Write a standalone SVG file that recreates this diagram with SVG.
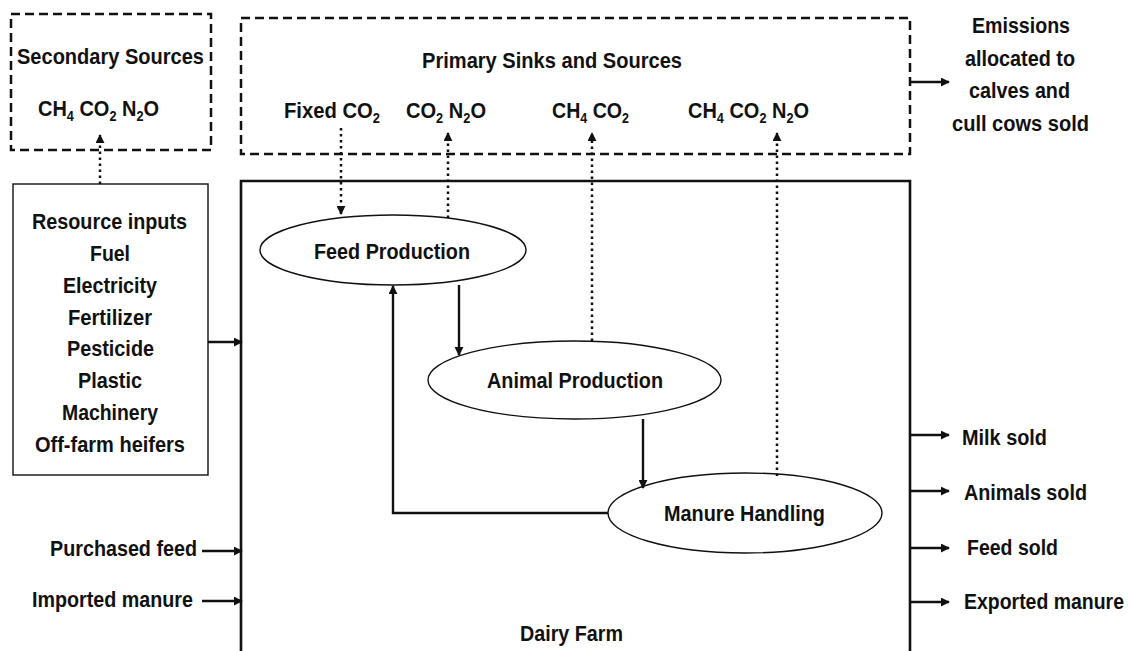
<svg xmlns="http://www.w3.org/2000/svg" width="1133" height="651" viewBox="0 0 1133 651">
<style>
text{font-family:"Liberation Sans",Arial,sans-serif;font-weight:bold;font-size:22px;fill:#111}
.sub{font-size:14px}
.dash{fill:none;stroke:#111;stroke-width:2.5;stroke-dasharray:9,5}
.thin{fill:#fff;stroke:#111;stroke-width:1.4}
.thick{fill:none;stroke:#111;stroke-width:2.6}
.dot{fill:none;stroke:#111;stroke-width:2.5;stroke-dasharray:2.5,3.5}
.ln{fill:none;stroke:#111;stroke-width:2.4}
</style>
<defs>
<marker id="ah" viewBox="0 0 10 10" refX="9" refY="5" markerWidth="9" markerHeight="9" markerUnits="userSpaceOnUse" orient="auto">
<path d="M0,0 L10,5 L0,10 z" fill="#111"/>
</marker>
</defs>
<rect width="1133" height="651" fill="#fff"/>

<g id="secondary">
<rect class="dash" x="11" y="14" width="200" height="136"/>
<text x="17" y="64" textLength="187" lengthAdjust="spacingAndGlyphs">Secondary Sources</text>
<text x="38" y="116" textLength="121" lengthAdjust="spacingAndGlyphs">CH<tspan class="sub" dy="5">4</tspan><tspan dy="-5"> CO</tspan><tspan class="sub" dy="5">2</tspan><tspan dy="-5"> N</tspan><tspan class="sub" dy="5">2</tspan><tspan dy="-5">O</tspan></text>
</g>

<g id="primary">
<rect class="dash" x="241" y="18" width="669" height="136"/>
<text x="422" y="68" textLength="260" lengthAdjust="spacingAndGlyphs">Primary Sinks and Sources</text>
<text x="284" y="118" textLength="96" lengthAdjust="spacingAndGlyphs">Fixed CO<tspan class="sub" dy="5">2</tspan></text>
<text x="406" y="118" textLength="80" lengthAdjust="spacingAndGlyphs">CO<tspan class="sub" dy="5">2</tspan><tspan dy="-5"> N</tspan><tspan class="sub" dy="5">2</tspan><tspan dy="-5">O</tspan></text>
<text x="552" y="118" textLength="77" lengthAdjust="spacingAndGlyphs">CH<tspan class="sub" dy="5">4</tspan><tspan dy="-5"> CO</tspan><tspan class="sub" dy="5">2</tspan></text>
<text x="688" y="118" textLength="121" lengthAdjust="spacingAndGlyphs">CH<tspan class="sub" dy="5">4</tspan><tspan dy="-5"> CO</tspan><tspan class="sub" dy="5">2</tspan><tspan dy="-5"> N</tspan><tspan class="sub" dy="5">2</tspan><tspan dy="-5">O</tspan></text>
</g>

<g id="emissions">
<text x="972" y="33" textLength="98" lengthAdjust="spacingAndGlyphs">Emissions</text>
<text x="965" y="66" textLength="110" lengthAdjust="spacingAndGlyphs">allocated to</text>
<text x="969" y="98" textLength="101" lengthAdjust="spacingAndGlyphs">calves and</text>
<text x="952" y="131" textLength="137" lengthAdjust="spacingAndGlyphs">cull cows sold</text>
</g>

<g id="resources">
<rect class="thin" x="13" y="184" width="195" height="291"/>
<text x="32" y="229" textLength="155" lengthAdjust="spacingAndGlyphs">Resource inputs</text>
<text x="90" y="261" textLength="40" lengthAdjust="spacingAndGlyphs">Fuel</text>
<text x="63" y="293" textLength="94" lengthAdjust="spacingAndGlyphs">Electricity</text>
<text x="68" y="325" textLength="84" lengthAdjust="spacingAndGlyphs">Fertilizer</text>
<text x="67" y="356" textLength="87" lengthAdjust="spacingAndGlyphs">Pesticide</text>
<text x="78" y="388" textLength="64" lengthAdjust="spacingAndGlyphs">Plastic</text>
<text x="62" y="420" textLength="96" lengthAdjust="spacingAndGlyphs">Machinery</text>
<text x="35" y="452" textLength="150" lengthAdjust="spacingAndGlyphs">Off-farm heifers</text>
</g>

<g id="dairy-farm">
<path class="thick" d="M241,660 L241,181 L910,181 L910,660"/>
<text x="520" y="641" textLength="103" lengthAdjust="spacingAndGlyphs">Dairy Farm</text>
</g>

<g id="feed-production">
<ellipse class="thin" cx="393" cy="250" rx="133" ry="35"/>
<text x="314" y="259" textLength="156" lengthAdjust="spacingAndGlyphs">Feed Production</text>
</g>

<g id="animal-production">
<ellipse class="thin" cx="574.5" cy="380" rx="146.5" ry="39"/>
<text x="487" y="388" textLength="176" lengthAdjust="spacingAndGlyphs">Animal Production</text>
</g>

<g id="manure-handling">
<ellipse class="thin" cx="745" cy="513" rx="137" ry="40"/>
<text x="664" y="521" textLength="161" lengthAdjust="spacingAndGlyphs">Manure Handling</text>
</g>

<g id="inputs-outputs">
<text x="50" y="556" textLength="147" lengthAdjust="spacingAndGlyphs">Purchased feed</text>
<text x="32" y="607" textLength="161" lengthAdjust="spacingAndGlyphs">Imported manure</text>
<text x="962" y="445" textLength="85" lengthAdjust="spacingAndGlyphs">Milk sold</text>
<text x="964" y="500" textLength="123" lengthAdjust="spacingAndGlyphs">Animals sold</text>
<text x="967" y="555" textLength="91" lengthAdjust="spacingAndGlyphs">Feed sold</text>
<text x="964" y="609" textLength="160" lengthAdjust="spacingAndGlyphs">Exported manure</text>
</g>

<g id="connectors">
<line class="dot" x1="100" y1="184" x2="100" y2="135" marker-end="url(#ah)"/>
<line class="dot" x1="341" y1="128" x2="341" y2="214" marker-end="url(#ah)"/>
<line class="dot" x1="448" y1="218" x2="448" y2="133" marker-end="url(#ah)"/>
<line class="dot" x1="592" y1="341" x2="592" y2="133" marker-end="url(#ah)"/>
<line class="dot" x1="777" y1="476" x2="777" y2="133" marker-end="url(#ah)"/>
<line class="ln" x1="910" y1="82" x2="949" y2="82" marker-end="url(#ah)"/>
<line class="ln" x1="208" y1="342" x2="242" y2="342" marker-end="url(#ah)"/>
<line class="ln" x1="202" y1="551" x2="242" y2="551" marker-end="url(#ah)"/>
<line class="ln" x1="202" y1="601" x2="242" y2="601" marker-end="url(#ah)"/>
<line class="ln" x1="910" y1="435" x2="949" y2="435" marker-end="url(#ah)"/>
<line class="ln" x1="910" y1="491" x2="949" y2="491" marker-end="url(#ah)"/>
<line class="ln" x1="910" y1="548" x2="949" y2="548" marker-end="url(#ah)"/>
<line class="ln" x1="910" y1="602" x2="949" y2="602" marker-end="url(#ah)"/>
<line class="ln" x1="459" y1="285" x2="459" y2="355" marker-end="url(#ah)"/>
<line class="ln" x1="643" y1="419" x2="643" y2="488" marker-end="url(#ah)"/>
<path class="ln" d="M608,513 L393,513 L393,286" marker-end="url(#ah)"/>
</g>
</svg>
